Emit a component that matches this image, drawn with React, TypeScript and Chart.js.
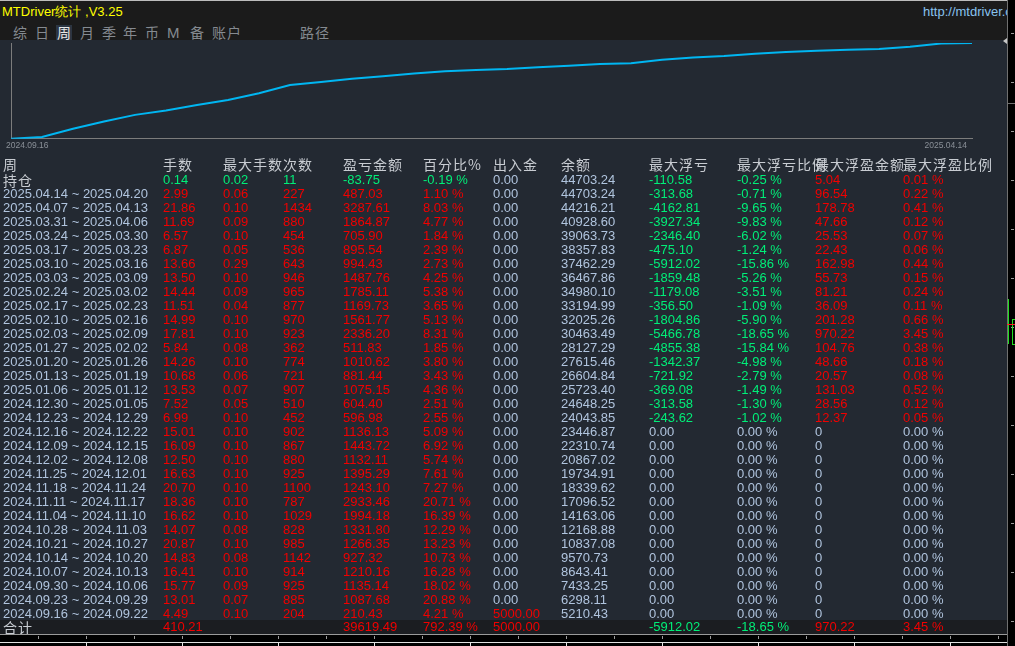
import React, { useEffect, useRef } from "react";
import { Chart, registerables } from "chart.js";

Chart.register(...registerables);

// ---------- data ----------
const titleText = "MTDriver统计 ,V3.25";
const urlText = "http://mtdriver.cn";
const menuItems = ["综", "日", "周", "月", "季", "年", "币", "M", "备", "账户", "路径"];
const activeMenu = "周";

const headers = ["周", "手数", "最大手数", "次数", "盈亏金额", "百分比%", "出入金", "余额", "最大浮亏", "最大浮亏比例", "最大浮盈金额", "最大浮盈比例"];
const openLabel = "持仓";
const totalLabel = "合计";

const weeks = [
  "2025.04.14 ~ 2025.04.20", "2025.04.07 ~ 2025.04.13", "2025.03.31 ~ 2025.04.06", "2025.03.24 ~ 2025.03.30",
  "2025.03.17 ~ 2025.03.23", "2025.03.10 ~ 2025.03.16", "2025.03.03 ~ 2025.03.09", "2025.02.24 ~ 2025.03.02",
  "2025.02.17 ~ 2025.02.23", "2025.02.10 ~ 2025.02.16", "2025.02.03 ~ 2025.02.09", "2025.01.27 ~ 2025.02.02",
  "2025.01.20 ~ 2025.01.26", "2025.01.13 ~ 2025.01.19", "2025.01.06 ~ 2025.01.12", "2024.12.30 ~ 2025.01.05",
  "2024.12.23 ~ 2024.12.29", "2024.12.16 ~ 2024.12.22", "2024.12.09 ~ 2024.12.15", "2024.12.02 ~ 2024.12.08",
  "2024.11.25 ~ 2024.12.01", "2024.11.18 ~ 2024.11.24", "2024.11.11 ~ 2024.11.17", "2024.11.04 ~ 2024.11.10",
  "2024.10.28 ~ 2024.11.03", "2024.10.21 ~ 2024.10.27", "2024.10.14 ~ 2024.10.20", "2024.10.07 ~ 2024.10.13",
  "2024.09.30 ~ 2024.10.06", "2024.09.23 ~ 2024.09.29", "2024.09.16 ~ 2024.09.22",
];
const lots = [2.99, 21.86, 11.69, 6.57, 6.87, 13.66, 13.5, 14.44, 11.51, 14.99, 17.81, 5.84, 14.26, 10.68, 13.53, 7.52, 6.99, 15.01, 16.09, 12.5, 16.63, 20.7, 18.36, 16.62, 14.07, 20.87, 14.83, 16.41, 15.77, 13.01, 4.49];
const maxLots = [0.06, 0.1, 0.09, 0.1, 0.05, 0.29, 0.1, 0.09, 0.04, 0.1, 0.1, 0.08, 0.1, 0.06, 0.07, 0.05, 0.1, 0.1, 0.1, 0.1, 0.1, 0.1, 0.1, 0.1, 0.08, 0.1, 0.08, 0.1, 0.09, 0.07, 0.1];
const trades = [227, 1434, 880, 454, 536, 643, 946, 965, 877, 970, 923, 362, 774, 721, 907, 510, 452, 902, 867, 880, 925, 1100, 787, 1029, 828, 985, 1142, 914, 925, 885, 204];
const profit = [487.03, 3287.61, 1864.87, 705.9, 895.54, 994.43, 1487.76, 1785.11, 1169.73, 1561.77, 2336.2, 511.83, 1010.62, 881.44, 1075.15, 604.4, 596.98, 1136.13, 1443.72, 1132.11, 1395.29, 1243.1, 2933.46, 1994.18, 1331.8, 1266.35, 927.32, 1210.16, 1135.14, 1087.68, 210.43];
const percent = [1.1, 8.03, 4.77, 1.84, 2.39, 2.73, 4.25, 5.38, 3.65, 5.13, 8.31, 1.85, 3.8, 3.43, 4.36, 2.51, 2.55, 5.09, 6.92, 5.74, 7.61, 7.27, 20.71, 16.39, 12.29, 13.23, 10.73, 16.28, 18.02, 20.88, 4.21];
const deposit = [0, 0, 0, 0, 0, 0, 0, 0, 0, 0, 0, 0, 0, 0, 0, 0, 0, 0, 0, 0, 0, 0, 0, 0, 0, 0, 0, 0, 0, 0, 5000];
const balance = [44703.24, 44216.21, 40928.6, 39063.73, 38357.83, 37462.29, 36467.86, 34980.1, 33194.99, 32025.26, 30463.49, 28127.29, 27615.46, 26604.84, 25723.4, 24648.25, 24043.85, 23446.87, 22310.74, 20867.02, 19734.91, 18339.62, 17096.52, 14163.06, 12168.88, 10837.08, 9570.73, 8643.41, 7433.25, 6298.11, 5210.43];
const maxFloatLoss = [-313.68, -4162.81, -3927.34, -2346.4, -475.1, -5912.02, -1859.48, -1179.08, -356.5, -1804.86, -5466.78, -4855.38, -1342.37, -721.92, -369.08, -313.58, -243.62, 0, 0, 0, 0, 0, 0, 0, 0, 0, 0, 0, 0, 0, 0];
const maxFloatLossPct = [-0.71, -9.65, -9.83, -6.02, -1.24, -15.86, -5.26, -3.51, -1.09, -5.9, -18.65, -15.84, -4.98, -2.79, -1.49, -1.3, -1.02, 0, 0, 0, 0, 0, 0, 0, 0, 0, 0, 0, 0, 0, 0];
const maxFloatProfit = [96.54, 178.78, 47.66, 25.53, 22.43, 162.98, 55.73, 81.21, 36.09, 201.28, 970.22, 104.76, 48.66, 20.57, 131.03, 28.56, 12.37, 0, 0, 0, 0, 0, 0, 0, 0, 0, 0, 0, 0, 0, 0];
const maxFloatProfitPct = [0.22, 0.41, 0.12, 0.07, 0.06, 0.44, 0.15, 0.24, 0.11, 0.66, 3.45, 0.38, 0.18, 0.08, 0.52, 0.12, 0.05, 0, 0, 0, 0, 0, 0, 0, 0, 0, 0, 0, 0, 0, 0];

// open positions row: lots, maxLots, trades, profit, percent, deposit, balance, floatLoss, floatLossPct, floatProfit, floatProfitPct
const openPosition = [0.14, 0.02, 11, -83.75, -0.19, 0, 44703.24, -110.58, -0.25, 5.04, 0.01];
// totals row (null = blank)
const totals = [410.21, null, null, 39619.49, 792.39, 5000, null, -5912.02, -18.65, 970.22, 3.45];

const startBalance = 5000;
const axisDates = ["2024.09.16", "2025.04.14"];

// ---------- styles ----------
const COL_X = [3, 163, 223, 283, 343, 423, 493, 561, 649, 737, 815, 903];
const RED = "#f00000";
const GREEN = "#00ee78";
const NEUTRAL = "#b0c4de";
const HEAD = "#c8ccd2";
const PANEL = "#232932";
const NUM_FONT = '"Liberation Sans", Arial, sans-serif';
const CJK_FONT = '"Noto Sans CJK SC", "Noto Sans", sans-serif';

type Cell = { t: string; c: string } | null;

const f2 = (v: number) => v.toFixed(2);
const fp = (v: number) => v.toFixed(2) + " %";

function rowCells(v: (number | null)[]): Cell[] {
  const [l, ml, tr, p, pc, d, b, fl, flp, fpv, fpp] = v;
  const pcol = (p as number) >= 0 ? RED : GREEN;
  return [
    l === null ? null : { t: f2(l), c: pcol },
    ml === null ? null : { t: f2(ml), c: pcol },
    tr === null ? null : { t: String(tr), c: pcol },
    p === null ? null : { t: f2(p), c: pcol },
    pc === null ? null : { t: fp(pc), c: pcol },
    d === null ? null : { t: f2(d), c: d > 0 ? RED : NEUTRAL },
    b === null ? null : { t: f2(b), c: NEUTRAL },
    fl === null ? null : { t: f2(fl), c: fl < 0 ? GREEN : NEUTRAL },
    flp === null ? null : { t: fp(flp), c: flp < 0 ? GREEN : NEUTRAL },
    fpv === null ? null : { t: fpv === 0 ? "0" : f2(fpv), c: fpv > 0 ? RED : NEUTRAL },
    fpp === null ? null : { t: fp(fpp), c: fpp > 0 ? RED : NEUTRAL },
  ];
}

function Row({ top, label, labelCjk, cells, bg }: { top: number; label: string; labelCjk?: boolean; cells: Cell[]; bg?: string }) {
  return (
    <div style={{ position: "absolute", left: 0, top, width: 1007, height: 14, background: bg }}>
      <span
        style={{
          position: "absolute",
          left: COL_X[0],
          top: 0,
          height: 14,
          lineHeight: "14px",
          fontFamily: labelCjk ? CJK_FONT : NUM_FONT,
          fontSize: labelCjk ? 14 : 13,
          letterSpacing: labelCjk ? 1 : 0,
          color: labelCjk ? HEAD : NEUTRAL,
          whiteSpace: "nowrap",
        }}
      >
        {label}
      </span>
      {cells.map((c, i) =>
        c ? (
          <span
            key={i}
            style={{
              position: "absolute",
              left: COL_X[i + 1],
              top: 0,
              height: 14,
              lineHeight: "14px",
              fontFamily: NUM_FONT,
              fontSize: 13,
              color: c.c,
              whiteSpace: "nowrap",
            }}
          >
            {c.t}
          </span>
        ) : null
      )}
    </div>
  );
}

function BalanceChart() {
  const ref = useRef<HTMLCanvasElement | null>(null);
  useEffect(() => {
    if (!ref.current) return;
    const series = [startBalance, ...balance.slice().reverse()];
    const pts = series.map((y, x) => ({ x, y }));
    const last = series.length - 1;
    const chart = new Chart(ref.current, {
      type: "line",
      data: {
        datasets: [
          {
            data: pts,
            borderColor: "#00b6f2",
            borderWidth: 2,
            pointRadius: 0,
            tension: 0,
            fill: false,
          },
        ],
      },
      options: {
        animation: false,
        responsive: true,
        maintainAspectRatio: false,
        layout: { padding: { left: 11, right: 35, top: 3, bottom: 3 } },
        plugins: { legend: { display: false }, tooltip: { enabled: false } },
        scales: {
          x: {
            type: "linear",
            min: 0,
            max: last,
            grid: { display: false, drawTicks: false },
            border: { display: true, color: "#7c7c7c", width: 1 },
            afterBuildTicks: (s: any) => {
              s.ticks = [{ value: 0 }, { value: last }];
            },
            ticks: {
              color: "#8a9098",
              font: { family: '"Liberation Sans Narrow", "Liberation Sans", Arial', size: 8.5 },
              padding: 2,
              align: "inner",
              labelOffset: -5,
              maxRotation: 0,
              autoSkip: false,
              callback: (_v: any, i: number) => axisDates[i],
            },
          },
          y: {
            type: "logarithmic",
            min: startBalance,
            max: Math.max(...series),
            bounds: "data",
            grid: { display: false, drawTicks: false },
            border: { display: true, color: "#7c7c7c", width: 1 },
            ticks: { display: false },
          },
        },
      } as any,
    });
    return () => chart.destroy();
  }, []);
  return (
    <div style={{ position: "absolute", left: 0, top: 40, width: 1007, height: 116 }}>
      <canvas ref={ref} />
    </div>
  );
}

export default function App() {
  const menuX = [13, 35, 57, 80, 102, 123, 145, 167, 190, 212, 300];
  const rightTicks = Array.from({ length: 13 }, (_, k) => 33 + 49 * k);
  const smallTicks = Array.from({ length: 21 }, (_, k) => 38 + 48 * k);
  const bigTicks = Array.from({ length: 10 }, (_, k) => 86 + 96 * k);
  return (
    <div
      style={{
        position: "fixed",
        left: 0,
        top: 0,
        width: 1015,
        height: 646,
        overflow: "hidden",
        background: PANEL,
      }}
    >
      {/* title bar */}
      <div style={{ position: "absolute", left: 0, top: 0, width: 1007, height: 40, background: "#1b1b1b", borderTop: "1px solid #bdbdbd", boxSizing: "border-box" }} />
      <div style={{ position: "absolute", left: 2, top: 3, lineHeight: "17px", fontFamily: NUM_FONT, fontSize: 13, color: "#ffff00", whiteSpace: "nowrap" }}>
        {titleText}
      </div>
      <div style={{ position: "absolute", left: 923, top: 3, width: 84, overflow: "hidden", lineHeight: "17px", fontFamily: NUM_FONT, fontSize: 13, color: "#88c2ee", whiteSpace: "nowrap" }}>
        {urlText}
      </div>
      {menuItems.map((m, i) => {
        const active = m === activeMenu;
        return (
          <div
            key={m}
            style={{
              position: "absolute",
              left: menuX[i] - (active ? 1 : 0),
              top: 25,
              height: 15,
              padding: active ? "0 1px" : 0,
              lineHeight: "15px",
              fontFamily: m === "M" ? NUM_FONT : CJK_FONT,
              fontSize: m === "M" ? 15 : 14,
              color: active ? "#e8e8e8" : "#858a90",
              background: active ? "#2c3541" : "transparent",
              letterSpacing: m.length > 1 ? 1 : 0,
              whiteSpace: "nowrap",
            }}
          >
            {m}
          </div>
        );
      })}

      {/* chart */}
      <BalanceChart />

      {/* header */}
      {headers.map((h, i) => (
        <div
          key={h}
          style={{
            position: "absolute",
            left: COL_X[i],
            top: 157,
            height: 15,
            lineHeight: "15px",
            fontFamily: CJK_FONT,
            fontSize: 14,
            letterSpacing: 1,
            color: HEAD,
            whiteSpace: "nowrap",
          }}
        >
          {h}
        </div>
      ))}

      <Row top={173} label={openLabel} labelCjk cells={rowCells(openPosition)} />
      {weeks.map((w, i) => (
        <Row
          key={w}
          top={187 + 14 * i}
          label={w}
          cells={rowCells([lots[i], maxLots[i], trades[i], profit[i], percent[i], deposit[i], balance[i], maxFloatLoss[i], maxFloatLossPct[i], maxFloatProfit[i], maxFloatProfitPct[i]])}
        />
      ))}
      <Row top={187 + 14 * weeks.length - 1} label={totalLabel} labelCjk cells={rowCells(totals)} bg="#1b1d21" />

      {/* bottom time scale strip */}
      <div style={{ position: "absolute", left: 0, top: 634, width: 1007, height: 12, background: "#000" }} />
      <div style={{ position: "absolute", left: 0, top: 634, width: 1007, height: 1, background: "#9a9a9a" }} />
      <div style={{ position: "absolute", left: 0, top: 642, width: 1007, height: 1, background: "#e0e0e0" }} />
      {smallTicks.map((x) => (
        <div key={"s" + x} style={{ position: "absolute", left: x, top: 636, width: 1, height: 3, background: "#9a9a9a" }} />
      ))}
      {bigTicks.map((x) => (
        <div key={"b" + x} style={{ position: "absolute", left: x, top: 643, width: 1, height: 3, background: "#e8e8e8" }} />
      ))}

      {/* right price scale strip */}
      <div style={{ position: "absolute", left: 1007, top: 0, width: 8, height: 646, background: "#000", borderLeft: "1px solid #707070", boxSizing: "border-box" }} />
      <div style={{ position: "absolute", left: 1007, top: 103, width: 8, height: 1, background: "#707070" }} />
      {rightTicks.map((y) => (
        <div key={"r" + y} style={{ position: "absolute", left: 1011, top: y, width: 3, height: 1, background: "#9a9a9a" }} />
      ))}
      <div style={{ position: "absolute", left: 1003, top: 38, width: 0, height: 0, borderTop: "3px solid transparent", borderBottom: "3px solid transparent", borderRight: "4px solid #c8c8c8" }} />
      <div style={{ position: "absolute", left: 1008, top: 299, width: 1, height: 45, background: "#22dd22" }} />
      <div style={{ position: "absolute", left: 1012, top: 319, width: 4, height: 26, border: "1px solid #22dd22", boxSizing: "border-box" }} />
      <div style={{ position: "absolute", left: 1007, top: 324, width: 8, height: 1, background: "#ff2020" }} />
    </div>
  );
}
